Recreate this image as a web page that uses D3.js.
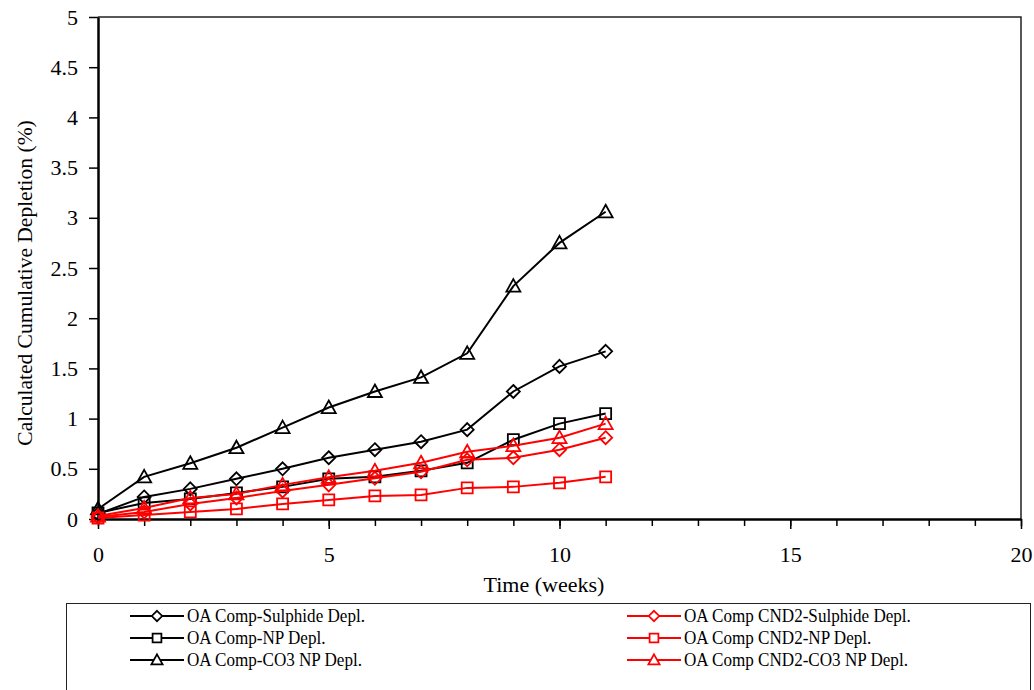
<!DOCTYPE html>
<html>
<head>
<meta charset="utf-8">
<script src="https://cdn.jsdelivr.net/npm/d3@7"></script>
<style>
  body { margin: 0; background: #fff; }
  svg text { font-family: "Liberation Serif", "Times New Roman", "DejaVu Serif", serif; }
</style>
</head>
<body>
<div id="vis"></div>
<script>
const weeks = [0, 1, 2, 3, 4, 5, 6, 7, 8, 9, 10, 11];

const oaSulphide = [0.05, 0.22, 0.30, 0.40, 0.50, 0.61, 0.69, 0.77, 0.89, 1.27, 1.52, 1.67];
const oaNP = [0.06, 0.16, 0.20, 0.26, 0.32, 0.40, 0.42, 0.48, 0.56, 0.79, 0.95, 1.05];
const oaCO3 = [0.10, 0.42, 0.555, 0.71, 0.91, 1.11, 1.27, 1.41, 1.65, 2.32, 2.75, 3.06];
const cnd2Sulphide = [0.02, 0.07, 0.15, 0.21, 0.28, 0.34, 0.405, 0.47, 0.59, 0.61, 0.69, 0.81];
const cnd2NP = [0.01, 0.04, 0.07, 0.10, 0.15, 0.19, 0.23, 0.24, 0.31, 0.32, 0.36, 0.42];
const cnd2CO3 = [0.03, 0.11, 0.21, 0.25, 0.34, 0.415, 0.48, 0.56, 0.67, 0.73, 0.81, 0.95];

const xTicks = [0, 5, 10, 15, 20];
const yTicks = [0, 0.5, 1, 1.5, 2, 2.5, 3, 3.5, 4, 4.5, 5];

const series = [
    { name: "OA Comp-Sulphide Depl.", values: oaSulphide, color: "#000", shape: "diamond" },
    { name: "OA Comp-NP Depl.", values: oaNP, color: "#000", shape: "square" },
    { name: "OA Comp-CO3 NP Depl.", values: oaCO3, color: "#000", shape: "triangle" },
    { name: "OA Comp CND2-Sulphide Depl.", values: cnd2Sulphide, color: "#ff0000", shape: "diamond" },
    { name: "OA Comp CND2-NP Depl.", values: cnd2NP, color: "#ff0000", shape: "square" },
    { name: "OA Comp CND2-CO3 NP Depl.", values: cnd2CO3, color: "#ff0000", shape: "triangle" }
];

const serif = '"Liberation Serif", "Times New Roman", "DejaVu Serif", serif';

const margin = { top: 17, left: 98, right: 13, bottom: 171 };
const W = 1034, H = 690;
const width = W - margin.left - margin.right;
const height = H - margin.top - margin.bottom;

const svg = d3.select("#vis").append("svg")
    .attr("width", W)
    .attr("height", H)
    .style("display", "block");

const g = svg.append("g")
    .attr("transform", `translate(${margin.left},${margin.top})`);

const x = d3.scaleLinear().domain([0, 20]).range([0, width]);
const y = d3.scaleLinear().domain([0, 5]).range([height, 0]);

// frame top/right
g.append("path")
    .attr("d", `M0,0H${width}V${height}`)
    .attr("fill", "none")
    .attr("stroke", "#222")
    .attr("stroke-width", 1.5);

// minor x ticks
g.append("g")
    .attr("transform", `translate(0,${height})`)
    .call(d3.axisBottom(x).ticks(20).tickSize(7).tickFormat(""))
    .call(a => a.select(".domain").remove())
    .selectAll("line").attr("stroke-width", 1.5);

const xAxis = g.append("g")
    .attr("transform", `translate(0,${height})`)
    .call(d3.axisBottom(x).tickValues(xTicks).tickSize(10).tickSizeOuter(0).tickPadding(17));
xAxis.attr("font-family", serif);
xAxis.select(".domain").attr("stroke-width", 2.5);
xAxis.selectAll("line").attr("stroke-width", 1.5);
xAxis.selectAll("text")
    .style("font-family", serif)
    .style("font-size", "22px")
    .attr("fill", "#000");

const yAxis = g.append("g")
    .call(d3.axisLeft(y).tickValues(yTicks).tickFormat(d => d).tickSize(9).tickSizeOuter(0).tickPadding(11));
yAxis.attr("font-family", serif);
yAxis.select(".domain").attr("stroke-width", 2.5);
yAxis.selectAll("line").attr("stroke-width", 1.5);
yAxis.selectAll("text")
    .style("font-family", serif)
    .style("font-size", "22px")
    .attr("fill", "#000");

svg.append("text")
    .attr("transform", `translate(25,283) rotate(-90)`)
    .attr("text-anchor", "middle")
    .attr("dominant-baseline", "central")
    .style("font-family", serif)
    .style("font-size", "21.5px")
    .text("Calculated Cumulative Depletion (%)");

svg.append("text")
    .attr("x", 544)
    .attr("y", 584)
    .attr("text-anchor", "middle")
    .attr("dominant-baseline", "central")
    .style("font-family", serif)
    .style("font-size", "22px")
    .text("Time (weeks)");

function markerPath(shape) {
    if (shape === "diamond") return "M0,-6.5L6.5,0L0,6.5L-6.5,0Z";
    if (shape === "square") return "M-5.5,-5.5H5.5V5.5H-5.5Z";
    return "M0,-7L7,5.5H-7Z";
}

const line = d3.line()
    .x((d, i) => x(weeks[i]))
    .y(d => y(d));

series.forEach(s => {
    g.append("path")
        .datum(s.values)
        .attr("d", line)
        .attr("fill", "none")
        .attr("stroke", s.color)
        .attr("stroke-width", 2);

    g.selectAll(null)
        .data(s.values)
        .enter()
        .append("path")
        .attr("transform", (d, i) => `translate(${x(weeks[i])},${y(d)})`)
        .attr("d", markerPath(s.shape))
        .attr("fill", "none")
        .attr("stroke", s.color)
        .attr("stroke-width", 1.8);
});

// legend
const legend = svg.append("g");
legend.append("rect")
    .attr("x", 66.5)
    .attr("y", 603.5)
    .attr("width", 964)
    .attr("height", 100)
    .attr("fill", "#fff")
    .attr("stroke", "#222")
    .attr("stroke-width", 1);

series.forEach((s, i) => {
    const col = Math.floor(i / 3), row = i % 3;
    const lx = col === 0 ? 130 : 627;
    const ly = 616 + row * 22;
    const item = legend.append("g").attr("transform", `translate(${lx},${ly})`);
    item.append("line")
        .attr("x1", 0).attr("x2", 54)
        .attr("stroke", s.color).attr("stroke-width", 2);
    item.append("path")
        .attr("transform", "translate(27,0) scale(0.8)")
        .attr("d", markerPath(s.shape))
        .attr("fill", "#fff")
        .attr("stroke", s.color)
        .attr("stroke-width", 2.2);
    item.append("text")
        .attr("transform", "translate(57,0) scale(0.9,1)")
        .attr("dominant-baseline", "central")
        .style("font-family", serif)
        .style("font-size", "19px")
        .text(s.name);
});
</script>
</body>
</html>
